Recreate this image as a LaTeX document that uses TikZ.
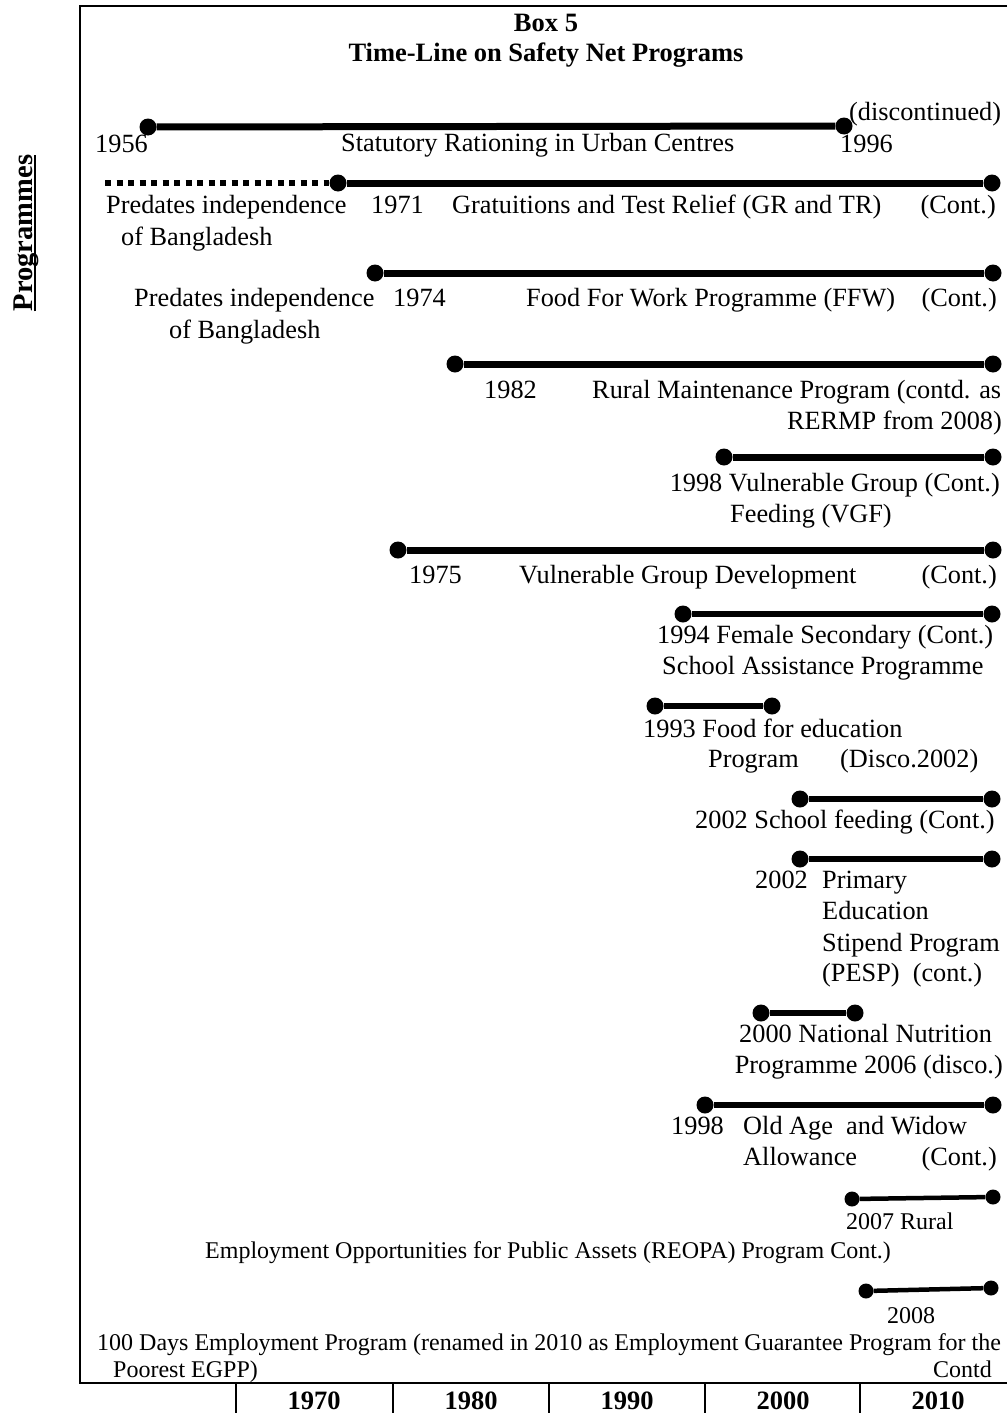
\documentclass[tikz,border=0pt]{standalone}
\usepackage{fontspec}
\setmainfont{Liberation Serif}
\newcommand\tlfont{\fontsize{26.3}{31.5}\selectfont}
\newcommand\tlsmall{\fontsize{24}{29}\selectfont}
\newcommand\tlbold{\fontsize{26.5}{31.5}\selectfont\bfseries}
\newcommand\tlprog{\fontsize{28.5}{34}\selectfont\bfseries}
\begin{document}
\begin{tikzpicture}[x=1pt,y=-1pt,
  dot/.style={circle,fill=black,inner sep=0pt,minimum size=17pt},
  sdot/.style={circle,fill=black,inner sep=0pt,minimum size=15pt},
  bar/.style={line width=7pt},
  mbar/.style={line width=6pt},
  tbar/.style={line width=4.5pt},
  dotline/.style={line width=6pt,dash pattern=on 6pt off 5.5pt},
  frame/.style={line width=1.8pt},
  lab/.style={inner sep=0pt,anchor=base west,font=\tlfont},
  rlab/.style={inner sep=0pt,anchor=base east,font=\tlfont},
  slab/.style={inner sep=0pt,anchor=base west,font=\tlsmall},
  srlab/.style={inner sep=0pt,anchor=base east,font=\tlsmall},
  ttl/.style={inner sep=0pt,anchor=base,font=\tlbold},
  axl/.style={inner sep=0pt,anchor=base,font=\tlbold}]
\useasboundingbox (0,0) rectangle (1007,1413);
% frame
\coordinate (ftl) at (80,6); \coordinate (ftr) at (1007,6);
\coordinate (fbl) at (80,1383); \coordinate (fbr) at (1007,1383);
\draw[frame] (ftr) -- (ftl) -- (fbl) -- (fbr);
\foreach \i/\x in {1/236,2/393,3/549,4/705,5/860}{
  \coordinate (st\i) at (\x,1383); \coordinate (sb\i) at (\x,1413);
  \draw[frame] (st\i) -- (sb\i);}
% axis labels
\node[axl] (x1) at (314,1409) {1970};
\node[axl] (x2) at (471,1409) {1980};
\node[axl] (x3) at (627,1409) {1990};
\node[axl] (x4) at (783,1409) {2000};
\node[axl] (x5) at (938,1409) {2010};
% side label
\node[inner sep=0pt,anchor=base,rotate=90,font=\tlprog] (prog) at (32,233) {Programmes};
\draw[line width=1.8pt] ([xshift=3pt]prog.base west) -- ([xshift=3pt]prog.base east);
% title
\node[ttl] (t1) at (546,32) {Box 5};
\node[ttl] (t2) at (546,62) {Time-Line on Safety Net Programs};
% Row A
\node[dot] (a1) at (148,127) {}; \node[dot] (a2) at (844,126) {};
\draw[bar] (a1) -- (a2);
\node[rlab] (a3) at (148,152) {1956};
\node[lab] (a4) at (341,151) {Statutory Rationing in Urban Centres};
\node[lab] (a5) at (840,152) {1996};
\node[lab] (a6) at (849,120) {(discontinued)};
% Row B
\coordinate (b0) at (105,183);
\node[dot] (b1) at (338,183) {}; \node[dot] (b2) at (992,183) {};
\draw[dotline] (b0) -- (b1);
\draw[bar] (b1) -- (b2);
\node[lab] (b3) at (106,213) {Predates independence};
\node[lab] (b4) at (121,245) {of Bangladesh};
\node[lab] (b5) at (371,213) {1971};
\node[lab] (b6) at (452,213) {Gratuitions and Test Relief (GR and TR)};
\node[rlab] (b7) at (996,213) {(Cont.)};
% Row C
\node[dot] (c1) at (375,273) {}; \node[dot] (c2) at (993,273) {};
\draw[bar] (c1) -- (c2);
\node[lab] (c3) at (134,306) {Predates independence};
\node[lab] (c4) at (169,338) {of Bangladesh};
\node[lab] (c5) at (393,306) {1974};
\node[lab] (c6) at (526,306) {Food For Work Programme (FFW)};
\node[rlab] (c7) at (997,306) {(Cont.)};
% Row D
\node[dot] (d1) at (455,364) {}; \node[dot] (d2) at (993,364) {};
\draw[bar] (d1) -- (d2);
\node[lab] (d3) at (484,398) {1982};
\node[lab] (d4) at (592,398) {Rural Maintenance Program (contd. as};
\node[rlab] (d5) at (1002,429) {RERMP from 2008)};
% Row E
\node[dot] (e1) at (724,457) {}; \node[dot] (e2) at (993,457) {};
\draw[bar] (e1) -- (e2);
\node[rlab] (e3) at (1000,491) {1998 Vulnerable Group (Cont.)};
\node[lab] (e4) at (730,522) {Feeding (VGF)};
% Row F
\node[dot] (f1) at (398,550) {}; \node[dot] (f2) at (993,550) {};
\draw[bar] (f1) -- (f2);
\node[lab] (f3) at (409,583) {1975};
\node[lab] (f4) at (519,583) {Vulnerable Group Development};
\node[rlab] (f5) at (997,583) {(Cont.)};
% Row G
\node[dot] (g1) at (683,614) {}; \node[dot] (g2) at (992,614) {};
\draw[mbar] (g1) -- (g2);
\node[lab] (g3) at (657,643) {1994 Female Secondary (Cont.)};
\node[lab] (g4) at (662,674) {School Assistance Programme};
% Row H
\node[dot] (h1) at (655,706) {}; \node[dot] (h2) at (772,706) {};
\draw[mbar] (h1) -- (h2);
\node[lab] (h3) at (643,737) {1993 Food for education};
\node[lab] (h4) at (708,767) {Program};
\node[lab] (h5) at (840,767) {(Disco.2002)};
% Row I
\node[dot] (i1) at (800,799) {}; \node[dot] (i2) at (992,799) {};
\draw[mbar] (i1) -- (i2);
\node[lab] (i3) at (695,828) {2002 School feeding (Cont.)};
% Row J
\node[dot] (j1) at (800,859) {}; \node[dot] (j2) at (992,859) {};
\draw[mbar] (j1) -- (j2);
\node[lab] (j3) at (755,888) {2002};
\node[lab] (j4) at (822,888) {Primary};
\node[lab] (j5) at (822,919) {Education};
\node[lab] (j6) at (822,951) {Stipend Program};
\node[lab] (j7) at (822,981) {(PESP)\ \ (cont.)};
% Row K
\node[dot] (k1) at (761,1013) {}; \node[dot] (k2) at (855,1013) {};
\draw[mbar] (k1) -- (k2);
\node[lab] (k3) at (739,1042) {2000 National Nutrition};
\node[rlab] (k4) at (1003,1073) {Programme 2006 (disco.)};
% Row L
\node[dot] (l1) at (705,1105) {}; \node[dot] (l2) at (993,1105) {};
\draw[mbar] (l1) -- (l2);
\node[lab] (l3) at (671,1134) {1998};
\node[lab] (l4) at (743,1134) {Old Age\ \ and Widow};
\node[lab] (l5) at (743,1165) {Allowance};
\node[rlab] (l6) at (997,1165) {(Cont.)};
% Row M
\node[sdot] (m1) at (852,1199) {}; \node[sdot] (m2) at (993,1197) {};
\draw[tbar] (m1) -- (m2);
\node[slab] (m3) at (846,1229) {2007 Rural};
\node[slab] (m4) at (205,1258) {Employment Opportunities for Public Assets (REOPA) Program Cont.)};
% Row N
\node[sdot] (n1) at (866,1291) {}; \node[sdot] (n2) at (991,1288) {};
\draw[tbar] (n1) -- (n2);
\node[slab] (n3) at (887,1323) {2008};
\node[slab] (n4) at (97,1350) {100 Days Employment Program (renamed in 2010 as Employment Guarantee Program for the};
\node[slab] (n5) at (113,1377) {Poorest EGPP)};
\node[srlab] (n6) at (992,1377) {Contd};
\end{tikzpicture}
\end{document}
